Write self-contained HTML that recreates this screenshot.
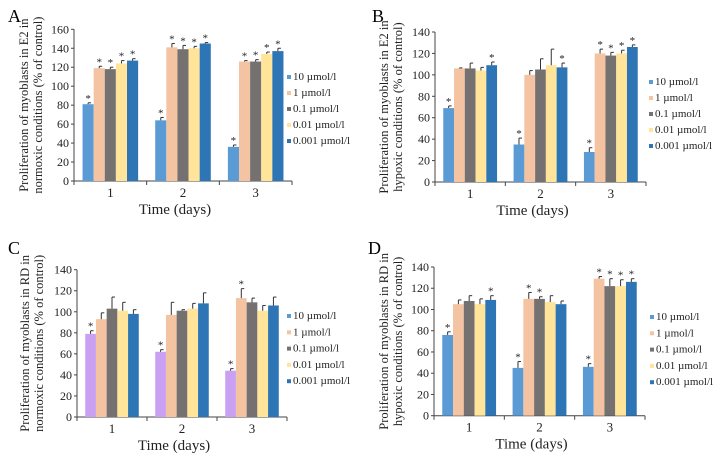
<!DOCTYPE html>
<html><head><meta charset="utf-8"><style>
body{margin:0;background:#fff;}
svg{display:block;font-family:"Liberation Serif",serif;}
</style></head><body>
<svg id="fig" width="716" height="457" viewBox="0 0 716 457"></svg>
<script>
const categories = ["1","2","3"];
const seriesNames = ["10 µmol/l","1 µmol/l","0.1 µmol/l","0.01 µmol/l","0.001 µmol/l"];
// values per panel: [series][group]
const valuesA = [[81,64,36],[119,141,126],[118,139,126],[124,140,134],[127,145,137]];
const errorsA = [[1.5,3,2],[2,4,1],[2,4,2],[3,2,2],[2,1,3]];
const starsA  = [[1,1,1],[1,1,1],[1,1,1],[1,1,1],[1,1,1]];
const valuesB = [[69,35,28],[106,100,120],[106,105,118],[104,109,120],[109,107,126]];
const errorsB = [[2,6,4],[0.5,4,4],[5,10,3],[3,15,3],[3,4,2]];
const starsB  = [[1,1,1],[0,0,1],[0,0,1],[0,0,1],[1,1,1]];
const valuesC = [[79,62,44],[93,97,113],[103,101,109],[101,103,101],[98,108,106]];
const errorsC = [[3,2,2],[6,12,9],[11,1,4],[8,5,5],[4,10,8]];
const starsC  = [[1,1,1],[0,0,1],[0,0,0],[0,0,0],[0,0,0]];
const valuesD = [[76,45,46],[105,110,129],[108,110,122],[105,107,122],[109,105,126]];
const errorsD = [[3,6,3],[4,6,2],[5,2,7],[5,6,6],[4,3,3]];
const starsD  = [[1,1,1],[0,1,1],[0,1,1],[0,0,1],[1,0,1]];
const ticksA = [0,20,40,60,80,100,120,140,160];
const ticksBCD = [0,20,40,60,80,100,120,140];

const colors = ["#5b9bd5","#f4c3a2","#767171","#ffe49a","#2e75b6"];
const NS = "http://www.w3.org/2000/svg";
const svg = document.getElementById('fig');
function mk(tag, attrs, parent){const e=document.createElementNS(NS,tag);for(const k in attrs)e.setAttribute(k,attrs[k]);(parent||svg).appendChild(e);return e;}

const panels = [
 {id:"a",letter:"A",lx:8,ly:22,x0:74,x1:292,y0:181,ymax:160,yTop:29.3,ticks:ticksA,vals:valuesA,errs:errorsA,stars:starsA,
  t1:"Proliferation of myoblasts in E2 in",t2:"normoxic conditions (% of control)",tx:28,legX:287,legY:79,legDY:16,firstColor:"#5b9bd5"},
 {id:"b",letter:"B",lx:372,ly:22,x0:435,x1:646,y0:182,ymax:140,yTop:32,ticks:ticksBCD,vals:valuesB,errs:errorsB,stars:starsB,
  t1:"Proliferation of myoblasts in E2 in",t2:"hypoxic conditions (% of control)",tx:388,legX:649,legY:84,legDY:16,firstColor:"#5b9bd5"},
 {id:"c",letter:"C",lx:8,ly:254,x0:77,x1:287,y0:417,ymax:140,yTop:269.7,ticks:ticksBCD,vals:valuesC,errs:errorsC,stars:starsC,
  t1:"Proliferation of myoblasts in RD in",t2:"normoxic conditions (% of control)",tx:29,legX:287,legY:318,legDY:16.3,firstColor:"#c9a0f2"},
 {id:"d",letter:"D",lx:368,ly:254,x0:434,x1:645,y0:415.7,ymax:140,yTop:267,ticks:ticksBCD,vals:valuesD,errs:errorsD,stars:starsD,
  t1:"Proliferation of myoblasts in RD in",t2:"hypoxic conditions (% of control)",tx:388,legX:650,legY:319,legDY:16.3,firstColor:"#5b9bd5"}
];

panels.forEach(p=>{
  const g = mk('g',{});
  
  
  const yS = v => p.y0 - (v/p.ymax)*(p.y0-p.yTop);
  const gw = (p.x1-p.x0)/categories.length;
  const bw = gw*0.153;
  const xS = (gi,si) => p.x0 + gi*gw + (gw-5*bw)/2 + si*bw;
  const lab = mk('text',{x:p.lx,y:p.ly,'font-size':18},g); lab.textContent=p.letter;
  
  
  // axes
  const ya = mk('line',{x1:p.x0,y1:p.yTop,x2:p.x0,y2:p.y0,stroke:'#444','stroke-width':1},g);
  
  
  const xa = mk('line',{x1:p.x0,y1:p.y0,x2:p.x1,y2:p.y0,stroke:'#444','stroke-width':1},g);
  
  
  p.ticks.forEach(t=>{
    const y=yS(t);
    mk('line',{x1:p.x0-3,y1:y,x2:p.x0,y2:y,stroke:'#444'},g);
    const tl=mk('text',{x:p.x0-5,y:y+4,'font-size':12,'text-anchor':'end',fill:'#222'},g); tl.textContent=t;
    
    
  });
  for(let i=0;i<=categories.length;i++){const x=p.x0+i*gw;mk('line',{x1:x,y1:p.y0,x2:x,y2:p.y0+4,stroke:'#444'},g);}
  categories.forEach((c,i)=>{
    const t=mk('text',{x:p.x0+(i+0.5)*gw,y:p.y0+16,'font-size':13,'text-anchor':'middle',fill:'#222'},g); t.textContent=c;
    
    
  });
  const xt=mk('text',{x:(p.x0+p.x1)/2-8,y:p.y0+33,'font-size':15,'text-anchor':'middle',fill:'#222'},g); xt.textContent="Time (days)";
  
  
  const cy=(p.y0+p.yTop)/2;
  [p.t1,p.t2].forEach((s,k)=>{
    const x=p.tx+k*14;
    const yt=mk('text',{x:x,y:cy,'font-size':12.5,'text-anchor':'middle',fill:'#222',transform:`rotate(-90 ${x} ${cy})`},g); yt.textContent=s;
    
    
  });
  // bars
  p.vals.forEach((ser,si)=>{
    ser.forEach((v,gi)=>{
      const x=xS(gi,si), y=yS(v);
      const col = si===0 ? p.firstColor : colors[si];
      const r=mk('rect',{x:x,y:y,width:bw,height:p.y0-y,fill:col},g);
      
      
      const e=p.errs[si][gi], ye=yS(v+e), cx=x+bw/2;
      mk('line',{x1:cx,y1:y,x2:cx,y2:ye,stroke:'#333','stroke-width':1},g);
      mk('line',{x1:cx,y1:ye,x2:cx+3,y2:ye,stroke:'#333','stroke-width':1},g);
      if(p.stars[si][gi]){
        const st=mk('text',{x:cx,y:ye-1,'font-size':11,'text-anchor':'middle',fill:'#222'},g); st.textContent="*";
        
        
      }
    });
  });
  // legend
  seriesNames.forEach((n,i)=>{
    const y=p.legY+i*p.legDY;
    const lg=mk('g',{},g);
    
    
    mk('rect',{x:p.legX,y:y-4,width:4,height:4,fill:colors[i]},lg);
    const t=mk('text',{x:p.legX+6,y:y+1,'font-size':11,fill:'#222'},lg); t.textContent=n;
  });
  svg.appendChild(g);
});
</script>
</body></html>
